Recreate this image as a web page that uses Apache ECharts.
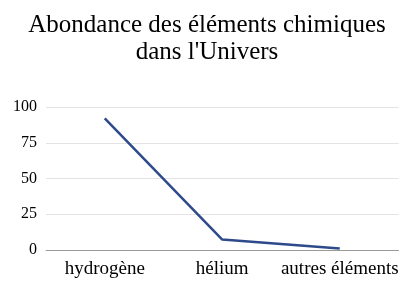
<!DOCTYPE html>
<html><head><meta charset="utf-8">
<script src="https://cdn.jsdelivr.net/npm/echarts@6/dist/echarts.min.js"></script>
<style>html,body{margin:0;padding:0;background:#fff}#c{width:414px;height:291px}</style>
</head><body><div id="c"></div>
<script>
const categories = ['hydrogène', 'hélium', 'autres éléments'];
const values = [92, 7.3, 1];
const yTicks = [0, 25, 50, 75, 100];
const titleText = "Abondance des éléments chimiques\ndans l'Univers";

const chart = echarts.init(document.getElementById('c'));
chart.setOption({
  animation: false,
  title: {
    text: titleText, left: 'center', top: 7,
    textStyle: { fontFamily: 'Liberation Serif', fontSize: 25, fontWeight: 'normal', color: '#000', lineHeight: 27 }
  },
  grid: { left: 46, right: 15.5, top: 107, bottom: 41 },
  xAxis: {
    type: 'category', data: categories, boundaryGap: true,
    axisLine: { lineStyle: { color: '#9a9a9a', width: 1 } },
    axisTick: { show: false },
    axisLabel: { interval: 0, fontFamily: 'Liberation Serif', fontSize: 19, color: '#000', margin: 10 }
  },
  yAxis: {
    type: 'value', min: yTicks[0], max: yTicks[yTicks.length - 1], interval: 25,
    axisLine: { show: false }, axisTick: { show: false },
    splitLine: { lineStyle: { color: '#e3e3e3', width: 1 } },
    axisLabel: { fontFamily: 'Liberation Serif', fontSize: 16, color: '#000', margin: 9 }
  },
  series: [{
    type: 'line', data: values, symbol: 'none',
    lineStyle: { color: '#2e4a8b', width: 2.5 }
  }]
});
</script></body></html>
